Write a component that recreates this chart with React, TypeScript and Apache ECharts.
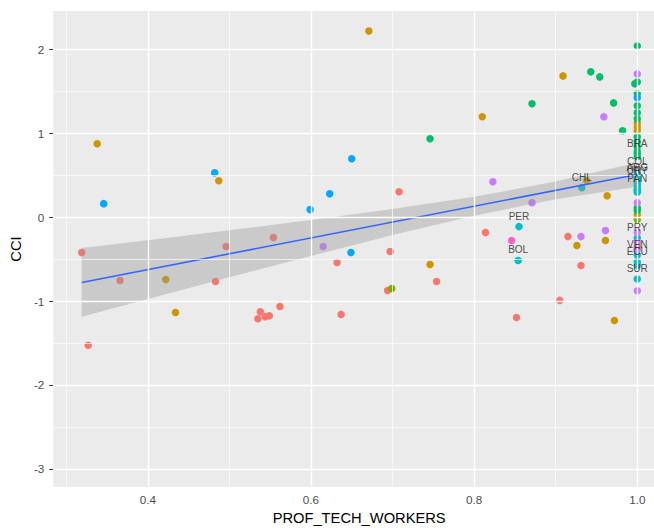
import React, { useEffect, useRef } from "react";
import * as echarts from "echarts";

// ---- axis ticks / gridlines ----
const xTicks = [0.4, 0.6, 0.8, 1.0];
const xMinor = [0.3, 0.5, 0.7, 0.9];
const yTicks = [-3, -2, -1, 0, 1, 2];
const yMinor = [-2.5, -1.5, -0.5, 0.5, 1.5];

// ---- points by group: [PROF_TECH_WORKERS, CCI] ----
const redPts = [
  [0.319, -0.42], [0.327, -1.526], [0.366, -0.754], [0.483, -0.765], [0.496, -0.349],
  [0.535, -1.21], [0.538, -1.127], [0.544, -1.187], [0.549, -1.175], [0.554, -0.242],
  [0.562, -1.063], [0.632, -0.539], [0.637, -1.158], [0.708, 0.306], [0.697, -0.408],
  [0.694, -0.873], [0.754, -0.765], [0.814, -0.182], [0.852, -1.194], [0.915, -0.23],
  [0.931, -0.575], [0.905, -0.991], [1.0, 0.568],
];
const mustardPts = [
  [0.338, 0.877], [0.422, -0.742], [0.434, -1.135], [0.487, 0.437], [0.671, 2.222],
  [0.746, -0.563], [0.81, 1.199], [0.909, 1.687], [0.938, 0.437], [0.963, 0.258],
  [0.926, -0.337], [0.961, -0.277], [0.972, -1.23], [1.0, 1.127], [1.0, 1.08],
  [1.0, 1.032], [1.0, 0.032], [1.0, -0.349],
];
const olivePts = [[0.699, -0.849], [1.0, -0.027]];
const greenPts = [
  [0.746, 0.937], [0.871, 1.354], [0.943, 1.735], [0.954, 1.675], [0.971, 1.365],
  [0.982, 1.032], [0.997, 1.592], [1.0, 2.044], [1.0, 1.615], [1.0, 1.473],
  [1.0, 1.33], [1.0, 1.246], [1.0, 1.175], [1.0, 0.961], [1.0, 0.901],
  [1.0, 0.842], [1.0, 0.782], [1.0, 0.723], [1.0, 0.115], [1.0, 0.08],
];
const cyanPts = [
  [1.0, 0.496], [1.0, 0.45], [1.0, 0.401], [1.0, 0.377], [1.0, 0.32], [1.0, 0.3], [1.0, -0.575],
];
const bluePts = [
  [0.346, 0.163], [0.482, 0.532], [0.599, 0.092], [0.623, 0.282], [0.65, 0.699],
  [0.649, -0.42], [1.0, 1.425],
];
const purplePts = [
  [0.615, -0.349], [0.823, 0.425], [0.871, 0.175], [0.959, 1.199], [0.931, -0.23],
  [0.961, -0.158], [1.0, 1.711], [1.0, 0.175], [1.0, -0.182], [1.0, -0.301],
  [1.0, -0.385], [1.0, -0.877],
];
const pinkPts = [[0.846, -0.277]];

// ---- labelled countries (cyan group) ----
const labelCodes = ["CHL", "PER", "BOL", "BRA", "COL", "ARG", "URY", "PAN", "PRY", "VEN", "ECU", "SUR"];
const labelX = [0.932, 0.855, 0.854, 1.0, 1.0, 1.0, 1.0, 1.0, 1.0, 1.0, 1.0, 1.0];
const labelY = [0.354, -0.111, -0.515, 0.758, 0.538, 0.467, 0.431, 0.336, -0.248, -0.45, -0.533, -0.736];

// ---- linear fit and confidence band ----
const fitX = [0.319, 1.0];
const fitY = [-0.777, 0.51];
const bandX = [0.319, 0.4, 0.5, 0.6, 0.7, 0.8, 0.9, 1.0];
const bandLo = [-1.187, -0.974, -0.715, -0.461, -0.212, 0.02, 0.216, 0.365];
const bandHi = [-0.367, -0.274, -0.155, -0.031, 0.098, 0.244, 0.426, 0.655];

const groups = [
  { name: "g1", color: "#F8766D", pts: redPts },
  { name: "g2", color: "#CD9600", pts: mustardPts },
  { name: "g3", color: "#7CAE00", pts: olivePts },
  { name: "g5", color: "#00BFC4", pts: cyanPts.concat(labelX.map((x, i) => [x, labelY[i]])) },
  { name: "g4", color: "#00BE67", pts: greenPts },
  { name: "g6", color: "#00A9FF", pts: bluePts },
  { name: "g7", color: "#C77CFF", pts: purplePts },
  { name: "g8", color: "#FF61CC", pts: pinkPts },
];

const FONT = "'Liberation Sans', Arial, sans-serif";

export default function App() {
  const ref = useRef<HTMLDivElement>(null);
  useEffect(() => {
    if (!ref.current) return;
    const chart = echarts.init(ref.current, undefined, { renderer: "svg" });
    const gridLines: any[] = [];
    xTicks.forEach((v) => gridLines.push({ xAxis: v, lineStyle: { width: 1.4 } }));
    xMinor.forEach((v) => gridLines.push({ xAxis: v, lineStyle: { width: 0.7 } }));
    yTicks.forEach((v) => gridLines.push({ yAxis: v, lineStyle: { width: 1.4 } }));
    yMinor.forEach((v) => gridLines.push({ yAxis: v, lineStyle: { width: 0.7 } }));

    const option: any = {
      animation: false,
      textStyle: { fontFamily: FONT },
      grid: {
        left: 48, right: 1, top: 11, bottom: 42,
        show: true, backgroundColor: "#EBEBEB", borderWidth: 0,
      },
      xAxis: {
        type: "value",
        min: 0.2842,
        max: 1.034,
        name: "PROF_TECH_WORKERS",
        nameLocation: "middle",
        nameGap: 21,
        nameTextStyle: { fontSize: 14.7, color: "#000", fontFamily: FONT },
        axisLine: { show: false },
        splitLine: { show: false },
        axisTick: { show: true, customValues: xTicks, length: 4, lineStyle: { color: "#333", width: 1 } },
        axisLabel: {
          customValues: xTicks, margin: 6, fontSize: 11.7, color: "#4D4D4D", fontFamily: FONT,
          formatter: (v: number) => v.toFixed(1),
        },
      },
      yAxis: {
        type: "value",
        min: -3.218,
        max: 2.461,
        name: "CCI",
        nameLocation: "middle",
        nameGap: 20,
        nameRotate: 90,
        nameTextStyle: { fontSize: 14.7, color: "#000", fontFamily: FONT },
        axisLine: { show: false },
        splitLine: { show: false },
        axisTick: { show: true, customValues: yTicks, length: 4, lineStyle: { color: "#333", width: 1 } },
        axisLabel: {
          customValues: yTicks, margin: 9, fontSize: 11.7, color: "#4D4D4D", fontFamily: FONT,
          formatter: (v: number) => String(v),
        },
      },
      series: [
        {
          type: "line",
          name: "grid",
          data: [],
          z: 1,
          silent: true,
          markLine: {
            silent: true,
            symbol: ["none", "none"],
            label: { show: false },
            lineStyle: { color: "#FFFFFF", type: "solid" },
            emphasis: { disabled: true },
            data: gridLines,
          },
        },
        ...groups.map((g) => ({
          type: "scatter",
          name: g.name,
          data: g.pts,
          symbol: "circle",
          symbolSize: 7.5,
          itemStyle: { color: g.color, opacity: 1 },
          z: 2,
          silent: true,
        })),
        {
          type: "custom",
          name: "band",
          data: bandX.map((x, i) => [x, bandLo[i], bandHi[i]]),
          encode: { x: 0, y: [1, 2] },
          z: 3,
          silent: true,
          renderItem: (params: any, api: any) => {
            if (params.dataIndex !== 0) return null;
            const top = bandX.map((x, i) => api.coord([x, bandHi[i]]));
            const bot = bandX.map((x, i) => api.coord([x, bandLo[i]])).reverse();
            return {
              type: "polygon",
              shape: { points: top.concat(bot) },
              style: { fill: "rgba(153,153,153,0.4)" },
            };
          },
        },
        {
          type: "line",
          name: "fit",
          data: fitX.map((x, i) => [x, fitY[i]]),
          showSymbol: false,
          lineStyle: { color: "#3366FF", width: 1.6 },
          z: 4,
          silent: true,
        },
        {
          type: "scatter",
          name: "labels",
          data: labelX.map((x, i) => ({ value: [x, labelY[i]], name: labelCodes[i] })),
          symbolSize: 0.1,
          itemStyle: { color: "rgba(0,0,0,0)" },
          z: 5,
          silent: true,
          label: {
            show: true,
            position: "inside",
            offset: [0, -10.5],
            formatter: "{b}",
            fontSize: 10,
            color: "#222",
            fontFamily: FONT,
          },
        },
      ],
    };
    chart.setOption(option);
    return () => chart.dispose();
  }, []);
  return (
    <div
      ref={ref}
      style={{ position: "fixed", left: 0, top: 0, width: 666, height: 530, background: "#fff" }}
    />
  );
}
